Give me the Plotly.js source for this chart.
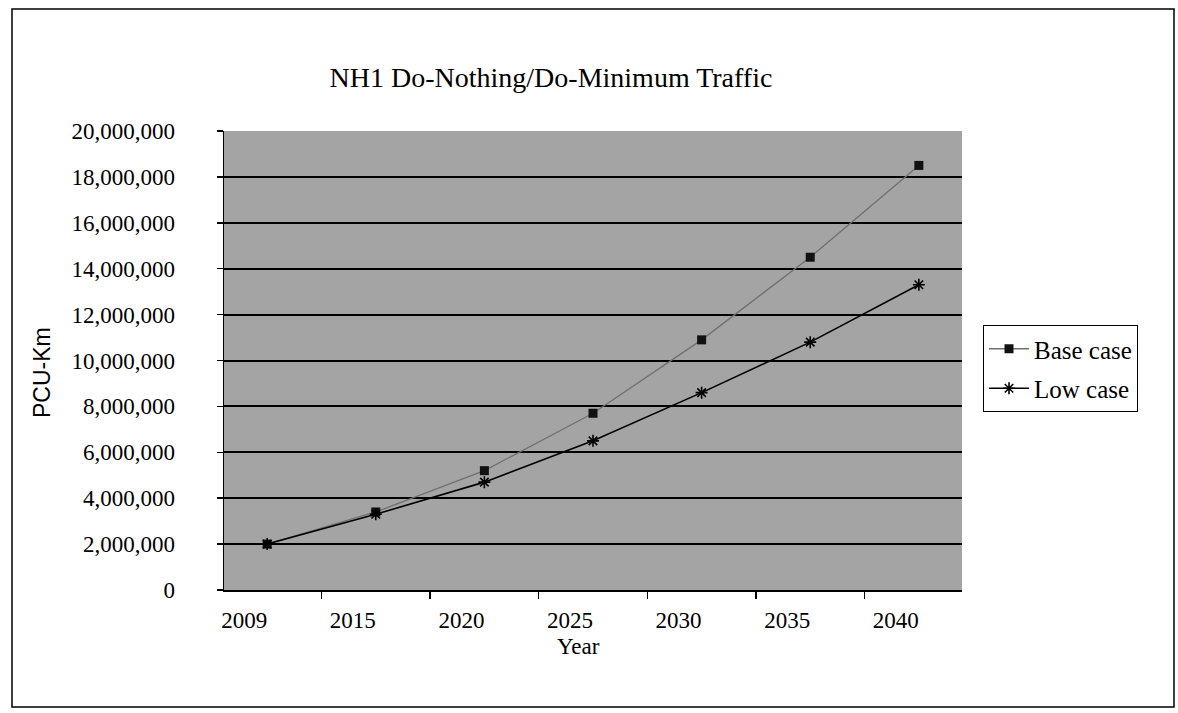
<!DOCTYPE html>
<html>
<head>
<meta charset="utf-8">
<script src="https://cdn.plot.ly/plotly-3.0.1.min.js"></script>
<style>
  html, body { margin: 0; padding: 0; background: #ffffff; }
  #chart { width: 1178px; height: 713px; }
</style>
</head>
<body>
<div id="chart"></div>
<script>
const years = ["2009", "2015", "2020", "2025", "2030", "2035", "2040"];
const baseCase = [2000000, 3400000, 5200000, 7700000, 10900000, 14500000, 18500000];
const lowCase = [2000000, 3300000, 4700000, 6500000, 8600000, 10800000, 13300000];
const seriesNames = ["Base case", "Low case"];
const chartTitle = "NH1 Do-Nothing/Do-Minimum Traffic";
const xTitle = "Year";
const yTitle = "PCU-Km";

const serif = "Liberation Serif, Times New Roman, serif";
const sans = "Liberation Sans, Arial, sans-serif";

const W = 1178, H = 713;
const m = { l: 224, r: 216, t: 131, b: 123 };
const pw = W - m.l - m.r, ph = H - m.t - m.b;
function px(x) { return (x - m.l) / pw; }
function py(y) { return (H - m.b - y) / ph; }

const traces = [
  {
    x: years, y: baseCase, name: seriesNames[0], type: "scatter", mode: "lines+markers",
    legendgroup: "a",
    line: { color: "#707070", width: 1.3 },
    marker: { symbol: "square", size: 9, color: "#111111" }
  },
  {
    x: years, y: lowCase, name: seriesNames[1], type: "scatter", mode: "lines+markers",
    legendgroup: "b",
    line: { color: "#000000", width: 1.6 },
    marker: { symbol: "asterisk-open", size: 10, color: "#000000", line: { color: "#000000", width: 1.6 } }
  }
];

const layout = {
  width: W, height: H,
  margin: m,
  paper_bgcolor: "#ffffff",
  plot_bgcolor: "#a4a4a4",
  showlegend: true,
  title: {
    text: chartTitle,
    font: { family: serif, size: 28, color: "#000000" },
    x: 551 / W, xanchor: "center",
    y: 1 - 77 / H, yanchor: "middle"
  },
  xaxis: {
    type: "category",
    tickson: "boundaries",
    ticks: "outside", ticklen: 7, tickcolor: "#000000", tickwidth: 1.5,
    showline: true, linecolor: "#000000", linewidth: 1.5,
    showgrid: false,
    ticklabelshift: -23,
    ticklabelstandoff: 9,
    tickfont: { family: serif, size: 23, color: "#000000" }
  },
  yaxis: {
    range: [0, 20000000],
    dtick: 2000000,
    tickformat: ",d",
    ticks: "outside", ticklen: 6, tickcolor: "#000000", tickwidth: 1.5,
    showline: true, linecolor: "#000000", linewidth: 1.5,
    showgrid: true, gridcolor: "#000000", gridwidth: 2,
    zeroline: false,
    ticklabelstandoff: 37,
    tickfont: { family: serif, size: 23, color: "#000000" }
  },
  annotations: [
    {
      text: yTitle, xref: "paper", yref: "paper", x: px(42), y: py(373),
      xanchor: "center", yanchor: "middle", textangle: -90, showarrow: false,
      font: { family: sans, size: 23, color: "#000000" }
    },
    {
      text: xTitle, xref: "paper", yref: "paper", x: px(578), y: py(646),
      xanchor: "center", yanchor: "middle", showarrow: false,
      font: { family: serif, size: 23, color: "#000000" }
    }
  ],
  legend: {
    x: px(983), y: py(325), xanchor: "left", yanchor: "top",
    bgcolor: "#ffffff", bordercolor: "#000000", borderwidth: 1,
    font: { family: serif, size: 25, color: "#000000" },
    traceorder: "grouped", tracegroupgap: 4, itemwidth: 40
  },
  shapes: [
    {
      type: "rect", xref: "paper", yref: "paper",
      x0: px(12), x1: px(1174), y0: py(707), y1: py(9),
      line: { color: "#000000", width: 1.5 }, fillcolor: "rgba(0,0,0,0)", layer: "below"
    }
  ]
};

Plotly.newPlot("chart", traces, layout, { displayModeBar: false, staticPlot: true });
</script>
</body>
</html>
